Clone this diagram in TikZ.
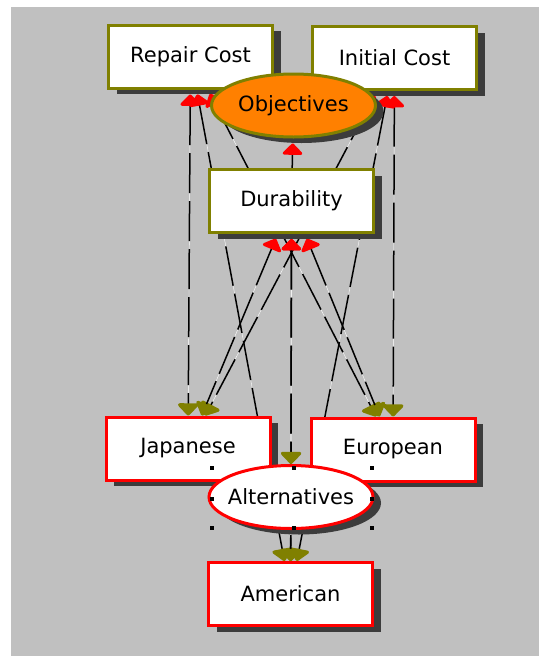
\documentclass[tikz,border=0pt]{standalone}
\usepackage{fontspec}
\setmainfont{DejaVu Sans}
\usetikzlibrary{shadows}
\usetikzlibrary{shapes}
\usetikzlibrary{arrows.meta}
\usetikzlibrary{backgrounds}
\definecolor{panelgray}{RGB}{192,192,192}
\definecolor{boxolive}{RGB}{128,128,0}
\definecolor{goalorange}{RGB}{255,128,0}
\definecolor{shadowgray}{RGB}{60,60,60}
\tikzstyle{nodebox}=[rectangle,draw,fill=white,line width=3pt,minimum width=164pt,minimum height=63pt,inner sep=0pt,font=\fontsize{21}{25}\selectfont,drop shadow={shadow xshift=8pt,shadow yshift=-6pt,fill=shadowgray,opacity=1}]
\tikzstyle{critbox}=[nodebox,draw=boxolive]
\tikzstyle{altbox}=[nodebox,draw=red]
\tikzstyle{oval}=[nodebox,ellipse,inner xsep=-8pt]
\tikzstyle{goaloval}=[oval,draw=boxolive,fill=goalorange]
\tikzstyle{altoval}=[oval,draw=red]
\tikzstyle{link}=[draw,line width=1.5pt,dash pattern=on 40pt off 8pt,preaction={draw=white,solid,-}]
\tikzstyle{uptip}=[shorten <=5pt,arrows={Triangle[red,length=12pt,width=23pt,line width=4pt,round]-}]
\tikzstyle{bothtip}=[shorten <=5pt,arrows={Triangle[red,length=12pt,width=23pt,line width=4pt,round]-Triangle[boxolive,length=13pt,width=24pt,line width=4pt,round]}]
\tikzstyle{downtip}=[shorten <=5pt,arrows={-Triangle[boxolive,length=13pt,width=24pt,line width=4pt,round]}]

\begin{document}
\begin{tikzpicture}[x=1pt,y=-1pt]
    \useasboundingbox (0,0) rectangle (539,656);
    % Objective side of the hierarchy
    \foreach \pos/\name/\label in {{(190.5,56.5)/RC/Repair Cost}, {(394.5,58)/IC/Initial Cost}}
        \node[critbox] (\name) at \pos {\label};
    \node[goaloval] (Obj) at (293.5,105.5) {Objectives};
    \node[critbox] (Dur) at (291.5,201) {Durability};

    % Alternative side of the hierarchy
    \foreach \pos/\name/\label in {{(188,448.5)/Jap/Japanese}, {(393,449.5)/Eur/European}}
        \node[altbox] (\name) at \pos {\label};
    \node[altoval] (Alt) at (291,497) {Alternatives};
    \node[altbox] (Amer) at (290.5,594) {American};

    % Connect the levels behind the nodes
    \begin{scope}[on background layer]
        \fill[panelgray] (11,7) rectangle (539,656);
        \foreach \source/\dest in {Obj/RC, Obj/IC, Obj/Dur}
            \path[link,uptip] (\source) -- (\dest);
        \foreach \source/\dest in {RC/Jap, RC/Eur, RC/Amer, IC/Jap, IC/Eur, IC/Amer, Dur/Jap, Dur/Eur, Dur/Amer, Dur/Alt}
            \path[link,bothtip] (\source) -- (\dest);
        \foreach \source/\dest in {Alt/Jap, Alt/Eur, Alt/Amer}
            \path[link,downtip] (\source) -- (\dest);
    \end{scope}

    % selection handles round Alternatives
    \foreach \x/\y in {212/468, 294/468, 372/468, 212/499, 372/499, 212/528, 294/528, 372/528}
        \fill (\x-2,\y-2) rectangle (\x+2,\y+2);
\end{tikzpicture}
\end{document}
